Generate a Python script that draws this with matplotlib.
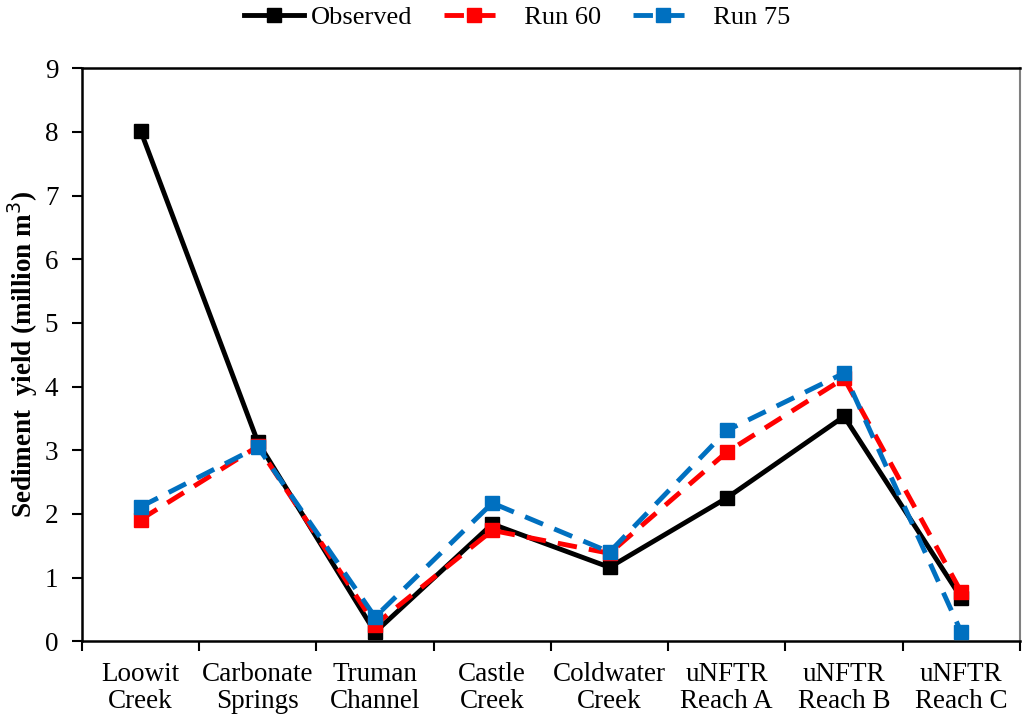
import matplotlib.pyplot as plt
import numpy as np

SITES = ["Loowit\nCreek", "Carbonate\nSprings", "Truman\nChannel", "Castle\nCreek",
         "Coldwater\nCreek", "uNFTR\nReach A", "uNFTR\nReach B", "uNFTR\nReach C"]
OBSERVED = [8.02, 3.13, 0.14, 1.84, 1.16, 2.25, 3.53, 0.68]
RUN60 = [1.91, 3.06, 0.26, 1.74, 1.38, 2.97, 4.13, 0.77]
RUN75 = [2.11, 3.05, 0.38, 2.17, 1.40, 3.31, 4.21, 0.14]

plt.rcParams["font.family"] = ["Liberation Serif", "DejaVu Serif"]
plt.rcParams["font.size"] = 19.5

fig = plt.figure(figsize=(10.24, 7.18), dpi=100)
ax = fig.add_axes([0.080, 0.107, 0.916, 0.798])

x = np.arange(len(SITES))
ax.plot(x, OBSERVED, "-", color="black", lw=3.5, marker="s", ms=10,
        label="Observed", zorder=3)
ax.plot(x, RUN60, "--", color="#ff0000", lw=3.5, marker="s", ms=10,
        dashes=(4, 2.5), label="  Run 60", zorder=4)
ax.plot(x, RUN75, "--", color="#0070c0", lw=3.5, marker="s", ms=10,
        dashes=(4, 2.5), label="  Run 75", zorder=5)

ax.set_xlim(-0.5, len(SITES) - 0.5)
ax.set_ylim(0, 9)
ax.set_yticks(range(0, 10))
ax.set_xticks(x)
ax.set_xticklabels(SITES, linespacing=1.1)
ax.set_xticks(np.arange(-0.5, len(SITES), 1.0), minor=True)
ax.tick_params(axis="x", which="major", length=0, pad=15)
ax.tick_params(axis="x", which="minor", length=7, width=1.5, direction="out")
ax.tick_params(axis="y", length=7, width=1.5, direction="out", pad=10)

for s in ["left", "bottom", "top"]:
    ax.spines[s].set_linewidth(1.8)
ax.spines["right"].set_color("#808080")
ax.spines["right"].set_linewidth(1.5)

ax.set_ylabel("Sediment  yield (million m$^3$)", fontweight="bold", fontsize=19.5)
ax.yaxis.set_label_coords(-0.045, 0.5)

ax.legend(loc="center", bbox_to_anchor=(0.464, 1.089), ncol=3, frameon=False,
          handlelength=2.3, handletextpad=0.25, columnspacing=1.2, fontsize=19)

fig.savefig("out.png", dpi=100)
